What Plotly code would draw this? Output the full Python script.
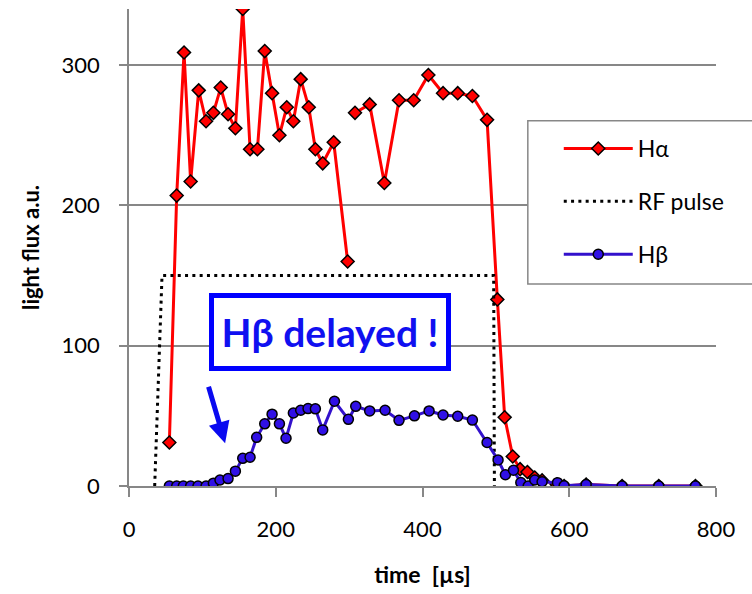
import plotly.graph_objects as go

# ---------------- data ----------------
t_halpha = [55, 65, 75, 84, 95, 105, 115, 125, 135, 145, 155, 165, 175, 185, 195, 205,
            215, 224, 234, 245, 254, 264, 279, 298, 303, 308, 328, 348, 368, 388, 408,
            428, 448, 468, 488, 502, 512, 523, 533, 543, 553, 563, 583, 593, 623, 672,
            722, 772]
v_halpha = [31, 207, 309, 217, 282, 260, 266, 284, 265, 255, 340, 240, 240, 310, 280, 250,
            270, 260, 290, 270, 240, 230, 245, 160, None, 266, 272, 216, 275, 275, 293,
            280, 280, 278, 261, 133, 49, 21, 12, 10, 6, 4, 1, 0, 1, 0,
            0, 0]

t_hbeta = [55, 65, 74, 84, 94, 105, 115, 124, 135, 145, 155, 165, 174, 185, 195, 205,
           214, 224, 234, 244, 254, 264, 280, 299, 309, 328, 349, 368, 389, 409, 428,
           448, 468, 488, 503, 513, 524, 534, 544, 553, 563, 584, 593, 623, 672, 722, 772]
v_hbeta = [0, 0, 0, 0, 0, 0, 2, 4.3, 5.3, 10.6, 19.7, 20.5, 34.7, 44.3, 51.2, 44.3,
           34, 52, 54, 55.2, 55, 40, 60.4, 47.5, 56.8, 53.5, 54, 46.8, 50, 53.5, 50.6,
           49.7, 47, 31, 18.5, 8, 11.2, 2.5, 0, 4.3, 3, 2.4, 0.2, 1, 0, 0, 0]

t_rf = [35, 45, 497, 498]
v_rf = [0, 150, 150, 0]

x_ticks = [0, 200, 400, 600, 800]
y_ticks = [0, 100, 200, 300]

# ---------------- layout geometry ----------------
W, H = 752, 594
ML, MR, MT, MB = 128.5, 35.5, 9, 108
PW, PH = W - ML - MR, H - MT - MB
XMAX, YMAX = 800, 340


def px(xp):
    return (xp - ML) / PW


def py(yp):
    return (H - MB - yp) / PH


FONT = "Lato"
GREY = "#878787"

fig = go.Figure()

fig.add_trace(go.Scatter(
    x=t_halpha, y=v_halpha, name="Hα", mode="lines+markers",
    connectgaps=False, legendgroup="a",
    line=dict(color="#FF0000", width=3),
    marker=dict(symbol="diamond", size=10, color="#FF0000",
                line=dict(color="#000000", width=1.5)),
))
fig.add_trace(go.Scatter(
    x=t_rf, y=v_rf, name="RF pulse", mode="lines", legendgroup="b",
    line=dict(color="#000000", width=3, dash="3px,4.3px"),
))
fig.add_trace(go.Scatter(
    x=t_hbeta, y=v_hbeta, name="Hβ", mode="lines+markers", legendgroup="c",
    line=dict(color="#3311CC", width=3),
    marker=dict(symbol="circle", size=10, color="#3010E6",
                line=dict(color="#000000", width=1.5)),
))

# legend frame (box extends past the right edge, as in the original)
fig.add_shape(type="rect", xref="paper", yref="paper",
              x0=px(528), x1=px(770), y0=py(284), y1=py(120.7),
              line=dict(color=GREY, width=1.5), fillcolor="white", layer="above")

# "Hβ delayed !" box
fig.add_annotation(
    x=274, y=110, xref="x", yref="y", text="<b>Hβ delayed !</b>", showarrow=False,
    font=dict(family=FONT, size=39, color="#1010F0"),
    bgcolor="white", bordercolor="#0000FF", borderwidth=5, borderpad=0,
    width=232, height=68, align="center",
)
# arrow
fig.add_annotation(
    x=131, y=30.5, xref="x", yref="y", text="", showarrow=True,
    ax=-17, ay=-58, arrowcolor="#0A0AF0", arrowwidth=5, arrowhead=2,
    arrowsize=0.85, standoff=0,
)

fig.update_layout(
    width=W, height=H,
    margin=dict(l=ML, r=MR, t=MT, b=MB, autoexpand=False),
    paper_bgcolor="white", plot_bgcolor="white",
    font=dict(family=FONT, color="#000000"),
    showlegend=True,
    legend=dict(
        x=px(559), y=py(127), xanchor="left", yanchor="top",
        bgcolor="rgba(0,0,0,0)", borderwidth=0,
        font=dict(family=FONT, size=23, color="#000000"),
        tracegroupgap=20, itemwidth=69, traceorder="grouped",
    ),
    xaxis=dict(
        range=[0, XMAX], tickvals=x_ticks, ticktext=[str(v) for v in x_ticks],
        showgrid=False, zeroline=False,
        showline=True, linecolor=GREY, linewidth=1.5,
        ticks="outside", ticklen=9, tickwidth=1.5, tickcolor=GREY,
        tickfont=dict(family=FONT, size=22, color="#000000"),
        ticklabelstandoff=14,
        title=dict(text="<b>time  [µs]</b>", standoff=26,
                   font=dict(family=FONT, size=23, color="#000000")),
        automargin=False,
    ),
    yaxis=dict(
        range=[0, YMAX], tickvals=y_ticks, ticktext=[str(v) for v in y_ticks],
        showgrid=True, gridcolor=GREY, gridwidth=1.5, zeroline=False,
        showline=True, linecolor=GREY, linewidth=1.5,
        ticks="outside", ticklen=8, tickwidth=1.5, tickcolor=GREY,
        tickfont=dict(family=FONT, size=22, color="#000000"),
        ticklabelstandoff=15,
        title=dict(text="<b>light flux a.u.</b>", standoff=16,
                   font=dict(family=FONT, size=22, color="#000000")),
        automargin=False,
    ),
)

fig.write_html(
    "out.html",
    config={"displayModeBar": False},
    post_script="document.body.style.margin='0';document.body.style.overflow='hidden';",
)
